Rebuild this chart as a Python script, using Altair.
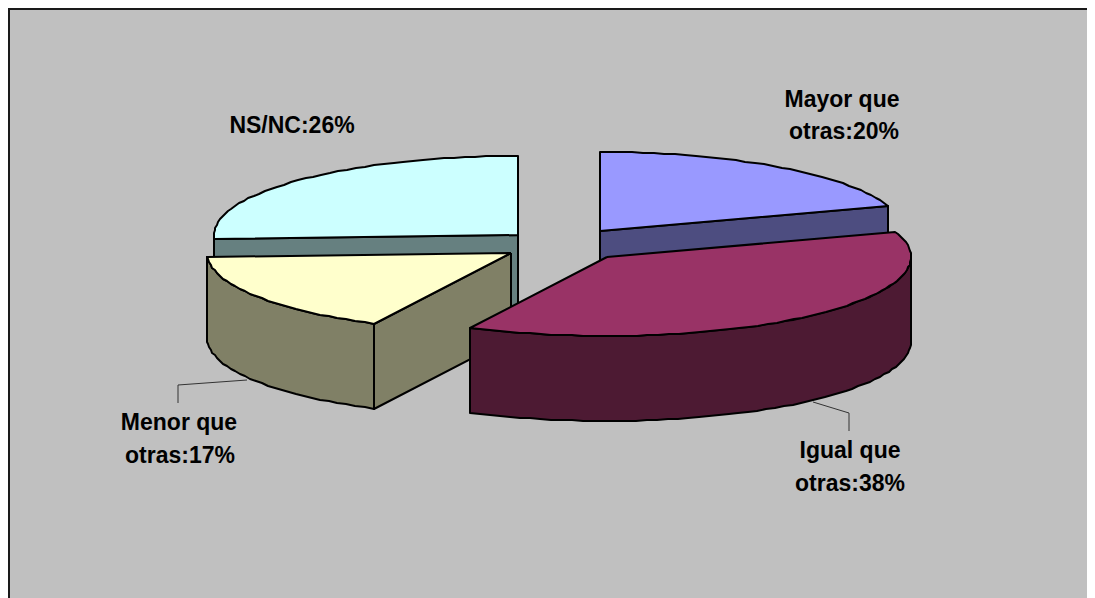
import math
import altair as alt
import pandas as pd

names = ["Mayor que otras", "Igual que otras", "Menor que otras", "NS/NC"]
values = [20, 38, 17, 26]
apex_x = [600, 607, 511, 518]
apex_y = [231, 257, 253, 235]
top_colors = ["#9999FF", "#993366", "#FFFFCC", "#CCFFFF"]
wall_colors = ["#4D4D80", "#4D1A33", "#808066", "#668080"]
draw_order = [3, 0, 2, 1]

RX, RY, DEPTH = 304, 79, 85
W, H = 1079, 590

label_lines = ["Mayor que", "otras:20%", "Igual que", "otras:38%", "Menor que", "otras:17%", "NS/NC:26%"]
label_x = [842, 844, 850, 850, 179, 180, 292]
label_y = [107, 139, 458, 491, 430, 463, 133]

leader_x = [[178, 178, 247], [813, 849, 849]]
leader_y = [[403, 385, 380], [402, 413, 431]]
frame_x = [9, 9, 1087]
frame_y = [598, 9, 9]

X = alt.X("x:Q", scale=alt.Scale(domain=[8, 8 + W], range=[0, W], nice=False, zero=False), axis=None)
Y = alt.Y("y:Q", scale=alt.Scale(domain=[8 + H, 8], range=[H, 0], nice=False, zero=False), axis=None)


def pt(i, deg, drop=0):
    a = math.radians(deg)
    return (round(apex_x[i] + RX * math.sin(a)), round(apex_y[i] - RY * math.cos(a) + drop))


def arc(i, a0, a1, drop=0):
    n = max(2, int(abs(a1 - a0) / 2) + 1)
    return [pt(i, a0 + (a1 - a0) * k / (n - 1), drop) for k in range(n)]


def poly(points, fill, sw=2):
    pts = list(points) + [points[0]]
    df = pd.DataFrame({"x": [p[0] for p in pts], "y": [p[1] for p in pts], "k": range(len(pts))})
    return alt.Chart(df).mark_line(fill=fill, stroke="#000000", strokeWidth=sw, strokeJoin="round", clip=False).encode(
        x=X, y=Y, order="k:Q"
    )


def path(xs, ys, color, sw):
    df = pd.DataFrame({"x": xs, "y": ys, "k": range(len(xs))})
    return alt.Chart(df).mark_line(stroke=color, strokeWidth=sw).encode(x=X, y=Y, order="k:Q")


total = sum(values)
starts, ends, acc = [], [], 0
for v in values:
    starts.append(acc * 360 / total)
    acc += v
    ends.append(acc * 360 / total)

layers = [path(frame_x, frame_y, "#1a1a1a", 2)]
layers += [path(xs, ys, "#333333", 1) for xs, ys in zip(leader_x, leader_y)]

for i in draw_order:
    a0, a1 = starts[i], ends[i]
    ax, ay = apex_x[i], apex_y[i]
    # outer wall: only the part of the rim facing the viewer
    f0, f1 = max(a0, 90), min(a1, 270)
    # cut edge at the start of the slice faces the viewer only past 180 degrees
    if 180 < a0 < 360:
        e = pt(i, a0)
        layers.append(poly([(ax, ay), e, (e[0], e[1] + DEPTH), (ax, ay + DEPTH)], wall_colors[i]))
    # cut edge at the end of the slice faces the viewer below 180 degrees
    if a1 < 180:
        e = pt(i, a1)
        layers.append(poly([(ax, ay), e, (e[0], e[1] + DEPTH), (ax, ay + DEPTH)], wall_colors[i]))
    if f1 > f0:
        layers.append(poly(arc(i, f0, f1) + arc(i, f1, f0, DEPTH), wall_colors[i]))
    layers.append(poly([(ax, ay)] + arc(i, a0, a1), top_colors[i]))

text_df = pd.DataFrame({"x": label_x, "y": label_y, "t": label_lines})
layers.append(
    alt.Chart(text_df)
    .mark_text(font="Liberation Sans", fontWeight="bold", fontSize=23, color="#000000", baseline="alphabetic", align="center")
    .encode(x=X, y=Y, text="t:N")
)

chart = (
    alt.layer(*layers)
    .properties(width=W, height=H, background="#C0C0C0", padding=0, autosize=alt.AutoSizeParams(type="none"))
    .configure_view(stroke=None)
)
chart.save("out.html", embed_options={"renderer": "svg", "actions": False})
